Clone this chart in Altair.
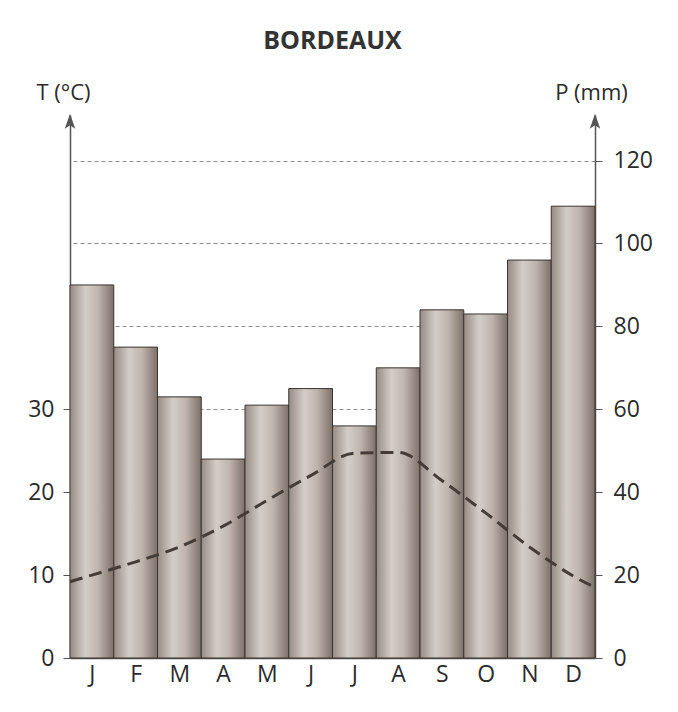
import altair as alt
import pandas as pd

months = ["J", "F", "M", "A", "M", "J", "J", "A", "S", "O", "N", "D"]
precip = [90, 75, 63, 48, 61, 65, 56, 70, 84, 83, 96, 109]          # mm
temp = [10.0, 11.6, 13.4, 15.9, 19.0, 22.0, 24.7, 24.8, 21.4, 17.5, 13.4, 9.9]  # °C at month centres
temp_edges = [9.2, 8.5]      # °C where the curve meets the left / right axes
t_ticks = [0, 10, 20, 30]
p_ticks = [0, 20, 40, 60, 80, 100, 120]

P_MAX = 131
X_DOM = [-0.5, len(months) - 0.5]
FONT = "Open Sans"
INK = "#2b2b2b"
AXIS = "#555555"

bars = pd.DataFrame({
    "start": [i - 0.5 for i in range(len(months))],
    "end": [i + 0.5 for i in range(len(months))],
    "p": precip,
    "month": months,
})
line = pd.DataFrame({
    "pos": [X_DOM[0]] + list(range(len(months))) + [X_DOM[1]],
    "t": [temp_edges[0]] + temp + [temp_edges[1]],
})
arrows = pd.DataFrame({"pos": X_DOM, "y": [129.5, 129.5]})

label_arr = "[" + ",".join("'" + m + "'" for m in months) + "]"
x_scale = alt.Scale(domain=X_DOM, nice=False, zero=False)
x_axis = alt.Axis(values=list(range(len(months))), labelExpr=label_arr + "[datum.value]",
                  ticks=False, grid=False, domain=True, domainColor=AXIS, domainWidth=1.5,
                  labelFontSize=23, labelFont=FONT, labelColor=INK, labelPadding=5, title=None)

grad = alt.Gradient(
    gradient="linear", x1=0, x2=1, y1=0, y2=0,
    stops=[
        alt.GradientStop(color="#978b84", offset=0),
        alt.GradientStop(color="#d4cdc7", offset=0.35),
        alt.GradientStop(color="#bfb4ad", offset=0.65),
        alt.GradientStop(color="#7c7069", offset=1),
    ],
)

bar_layer = alt.Chart(bars).mark_bar(fill=grad, stroke="#3b3430", strokeWidth=1).encode(
    x=alt.X("start:Q", scale=x_scale, axis=x_axis),
    x2="end:Q",
    y=alt.Y("p:Q", scale=alt.Scale(domain=[0, P_MAX], nice=False),
            axis=alt.Axis(orient="right", values=p_ticks, title="P (mm)", titleAngle=0,
                          titleX=-4, titleY=-16, titleAlign="center", titleBaseline="alphabetic",
                          titleFontSize=22, titleFontWeight="normal", titleFont=FONT, titleColor=INK,
                          labelFontSize=23, labelFont=FONT, labelColor=INK, labelPadding=11,
                          tickSize=7, tickColor=AXIS, domainColor=AXIS, domainWidth=1.5,
                          grid=True, gridDash=[4, 3], gridColor="#8c8c8c", gridWidth=1)),
    y2=alt.datum(0),
)

line_layer = alt.Chart(line).mark_line(
    color="#463c37", strokeWidth=3, strokeDash=[13, 7], interpolate="monotone"
).encode(
    x=alt.X("pos:Q", scale=x_scale, axis=x_axis),
    y=alt.Y("t:Q", scale=alt.Scale(domain=[0, P_MAX / 2], nice=False),
            axis=alt.Axis(orient="left", values=t_ticks, title="T (°C)", titleAngle=0,
                          titleX=-7, titleY=-16, titleAlign="center", titleBaseline="alphabetic",
                          titleFontSize=22, titleFontWeight="normal", titleFont=FONT, titleColor=INK,
                          labelFontSize=23, labelFont=FONT, labelColor=INK, labelPadding=9,
                          tickSize=7, tickColor=AXIS, domainColor=AXIS, domainWidth=1.5,
                          grid=False)),
)

arrow_layer = alt.Chart(arrows).mark_point(
    shape="M0,-1L0.7,1L0,0.55L-0.7,1Z", filled=True, size=225, color=AXIS, opacity=1
).encode(
    x=alt.X("pos:Q", scale=x_scale, axis=x_axis),
    y=alt.Y("y:Q", scale=alt.Scale(domain=[0, P_MAX], nice=False), axis=None),
)

chart = alt.layer(bar_layer, line_layer, arrow_layer).resolve_scale(
    y="independent"
).resolve_axis(y="independent").properties(
    width=525,
    height=543,
    autosize=alt.AutoSizeParams(type="none"),
    padding={"left": 62, "top": 107, "right": 70, "bottom": 40},
    background="white",
    title=alt.TitleParams("BORDEAUX", fontSize=25, fontWeight="bold", font=FONT, color="#333333",
                          anchor="middle", frame="group", offset=27),
).configure_view(stroke=None)

chart.save("out.html", embed_options={"renderer": "svg", "actions": False})
